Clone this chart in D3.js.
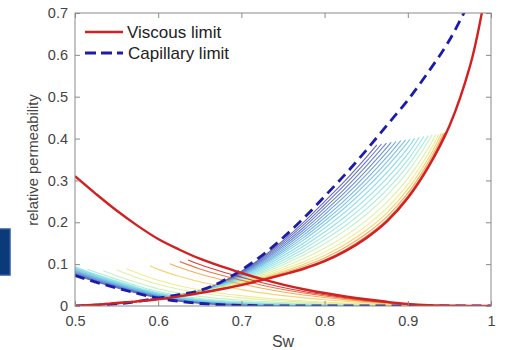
<!DOCTYPE html>
<html>
<head>
<meta charset="utf-8">
<script src="https://cdn.jsdelivr.net/npm/d3@7"></script>
<style>
body { margin: 0; background: #fff; }
text { font-family: "Liberation Sans", Arial, sans-serif; }
</style>
</head>
<body>
<div id="chart"></div>
<script>
// saturation grid the limit curves were read on
var sw = [0.5, 0.525, 0.55, 0.575, 0.6, 0.625, 0.65, 0.675, 0.7, 0.725, 0.75,
          0.775, 0.8, 0.825, 0.85, 0.875, 0.9, 0.925, 0.95, 0.975, 0.9875, 1.0];

var viscRise = [0, 0.003, 0.007, 0.011, 0.016, 0.023, 0.031, 0.04, 0.05, 0.062, 0.075,
                0.089, 0.107, 0.131, 0.162, 0.202, 0.258, 0.333, 0.43, 0.575, 0.685, 0.83];
var viscFall = [0.31, 0.268, 0.228, 0.192, 0.16, 0.135, 0.113, 0.095, 0.079, 0.064, 0.051,
                0.04, 0.031, 0.023, 0.016, 0.01, 0.005, 0.002, 0.001, 0, 0, 0];
var capRise  = [0, 0.002, 0.005, 0.011, 0.019, 0.027, 0.037, 0.057, 0.086, 0.121, 0.163,
                0.21, 0.262, 0.315, 0.372, 0.432, 0.492, 0.56, 0.635, 0.73, 0.78, 0.83];
var capFall  = [0.073, 0.057, 0.043, 0.03, 0.019, 0.011, 0.006, 0.003, 0.0015, 0.0005, 0,
                0, 0, 0, 0, 0, 0, 0, 0, 0, 0, 0];

// intermediate curves: position between the two limits, where each rising line stops,
// and where each falling line starts
var riseMix    = [0.08, 0.13, 0.18, 0.23, 0.28, 0.33, 0.38, 0.43, 0.49, 0.55, 0.61,
                  0.67, 0.73, 0.8, 0.86, 0.91, 0.95, 0.98, 1.0];
var riseEndKr  = [0.385, 0.387, 0.389, 0.391, 0.393, 0.395, 0.397, 0.399, 0.401, 0.403, 0.405,
                  0.407, 0.409, 0.41, 0.411, 0.412, 0.413, 0.414, 0.415];
var fallStartSw = [0.5, 0.5, 0.5, 0.5, 0.5, 0.5, 0.5, 0.5, 0.5, 0.5, 0.5,
                   0.515, 0.534, 0.55, 0.562, 0.59, 0.614, 0.626, 0.636];
var fallStartKr = [0.074, 0.076, 0.078, 0.08, 0.082, 0.084, 0.086, 0.088, 0.09, 0.092, 0.094,
                   0.088, 0.084, 0.086, 0.089, 0.096, 0.101, 0.106, 0.11];

var xTicks = [0.5, 0.6, 0.7, 0.8, 0.9, 1];
var yTicks = [0, 0.1, 0.2, 0.3, 0.4, 0.5, 0.6, 0.7];
var legendNames = ["Viscous limit", "Capillary limit"];

var W = 508, H = 350,
    mL = 75, mR = 491, mT = 13, mB = 306;

var x = d3.scaleLinear().domain([0.5, 1]).range([mL, mR]),
    y = d3.scaleLinear().domain([0, 0.7]).range([mB, mT]);

var svg = d3.select('#chart').append('svg')
    .attr('width', W).attr('height', H);

svg.append('clipPath').attr('id', 'plot')
  .append('rect').attr('x', mL).attr('y', mT)
    .attr('width', mR - mL).attr('height', mB - mT);

var color = d3.scaleLinear()
    .domain([0, 0.15, 0.3, 0.45, 0.6, 0.7, 0.8, 0.88, 0.95, 1])
    .range(["#5050a0", "#5276c8", "#62aee2", "#74d6e6", "#98e8d8", "#d0f0a8",
            "#f6e46c", "#f4a842", "#e25a22", "#cc1c1c"]);

var line = d3.line()
    .x(function(d) { return x(d[0]); })
    .y(function(d) { return y(d[1]); })
    .curve(d3.curveCatmullRom.alpha(0.5));

function at(arr) { return d3.scaleLinear().domain(sw).range(arr); }

var g = svg.append('g').attr('clip-path', 'url(#plot)');
var n = riseMix.length;

// family of curves
riseMix.forEach(function(t, i) {
  var c = color(i / (n - 1));

  // rising branch, cut where it reaches its end value
  var pts = [], prev = null;
  for (var k = 0; k < sw.length; k++) {
    var v = (1 - t) * capRise[k] + t * viscRise[k];
    if (v >= riseEndKr[i]) {
      var f = (riseEndKr[i] - prev[1]) / (v - prev[1]);
      pts.push([prev[0] + f * (sw[k] - prev[0]), riseEndKr[i]]);
      break;
    }
    prev = [sw[k], v];
    pts.push(prev);
  }
  g.append('path').attr('d', line(pts))
    .attr('fill', 'none').attr('stroke', c)
    .attr('stroke-width', 1.1).attr('stroke-opacity', 0.85);

  // falling branch, from its start point on
  var s0 = fallStartSw[i], k0 = fallStartKr[i],
      cf = at(capFall)(s0), vf = at(viscFall)(s0),
      u = (k0 - cf) / (vf - cf);
  var fp = [[s0, k0]];
  sw.forEach(function(s, k) {
    if (s > s0 + 0.005) fp.push([s, (1 - u) * capFall[k] + u * viscFall[k]]);
  });
  g.append('path').attr('d', line(fp))
    .attr('fill', 'none').attr('stroke', c)
    .attr('stroke-width', 1.1).attr('stroke-opacity', 0.85);
});

// limits
function pairs(arr) { return sw.map(function(s, k) { return [s, arr[k]]; }); }

[capRise, capFall].forEach(function(arr) {
  g.append('path').attr('d', line(pairs(arr)))
    .attr('fill', 'none').attr('stroke', '#1c1ca8')
    .attr('stroke-width', 2.8).attr('stroke-dasharray', '10,6');
});
[viscRise, viscFall].forEach(function(arr) {
  g.append('path').attr('d', line(pairs(arr)))
    .attr('fill', 'none').attr('stroke', '#d42020')
    .attr('stroke-width', 2.4);
});

// axes
svg.append('rect').attr('x', mL).attr('y', mT)
  .attr('width', mR - mL).attr('height', mB - mT)
  .attr('fill', 'none').attr('stroke', '#8a8a8a');

function styleAxis(sel) {
  sel.select('.domain').remove();
  sel.selectAll('line').attr('stroke', '#8a8a8a');
  sel.selectAll('text').attr('fill', '#444').style('font-size', '14.5px')
    .style('font-family', '"Liberation Sans", Arial, sans-serif');
}

svg.append('g').attr('transform', 'translate(0,' + mB + ')')
  .call(d3.axisBottom(x).tickValues(xTicks).tickSize(-5).tickPadding(10)
        .tickFormat(d3.format('')))
  .call(styleAxis);
svg.append('g').attr('transform', 'translate(0,' + mT + ')')
  .call(d3.axisTop(x).tickValues(xTicks).tickSize(-5).tickFormat(''))
  .call(styleAxis);
svg.append('g').attr('transform', 'translate(' + mL + ',0)')
  .call(d3.axisLeft(y).tickValues(yTicks).tickSize(-5).tickPadding(7)
        .tickFormat(d3.format('')))
  .call(styleAxis);
svg.append('g').attr('transform', 'translate(' + mR + ',0)')
  .call(d3.axisRight(y).tickValues(yTicks).tickSize(-5).tickFormat(''))
  .call(styleAxis);

svg.append('text').attr('x', 283).attr('y', 347)
  .attr('text-anchor', 'middle').attr('fill', '#444')
  .style('font-size', '16px').text('Sw');
svg.append('text').attr('transform', 'translate(38,160) rotate(-90)')
  .attr('text-anchor', 'middle').attr('fill', '#444')
  .style('font-size', '14.8px').text('relative permeability');

// legend
var lg = svg.append('g');
lg.append('line').attr('x1', 85).attr('x2', 123).attr('y1', 32).attr('y2', 32)
  .attr('stroke', '#d42020').attr('stroke-width', 2.4);
lg.append('line').attr('x1', 85).attr('x2', 123).attr('y1', 53).attr('y2', 53)
  .attr('stroke', '#1c1ca8').attr('stroke-width', 2.8).attr('stroke-dasharray', '11,5');
lg.append('text').attr('x', 127).attr('y', 38).attr('fill', '#222')
  .style('font-size', '17px').text(legendNames[0]);
lg.append('text').attr('x', 128).attr('y', 59).attr('fill', '#222')
  .style('font-size', '17px').text(legendNames[1]);

// navy block at the left edge
svg.append('rect').attr('x', -2).attr('y', 229).attr('width', 12).attr('height', 46)
  .attr('fill', '#0a3a7a').attr('stroke', '#2c5c9c').attr('stroke-width', 1.5);
</script>
</body>
</html>
